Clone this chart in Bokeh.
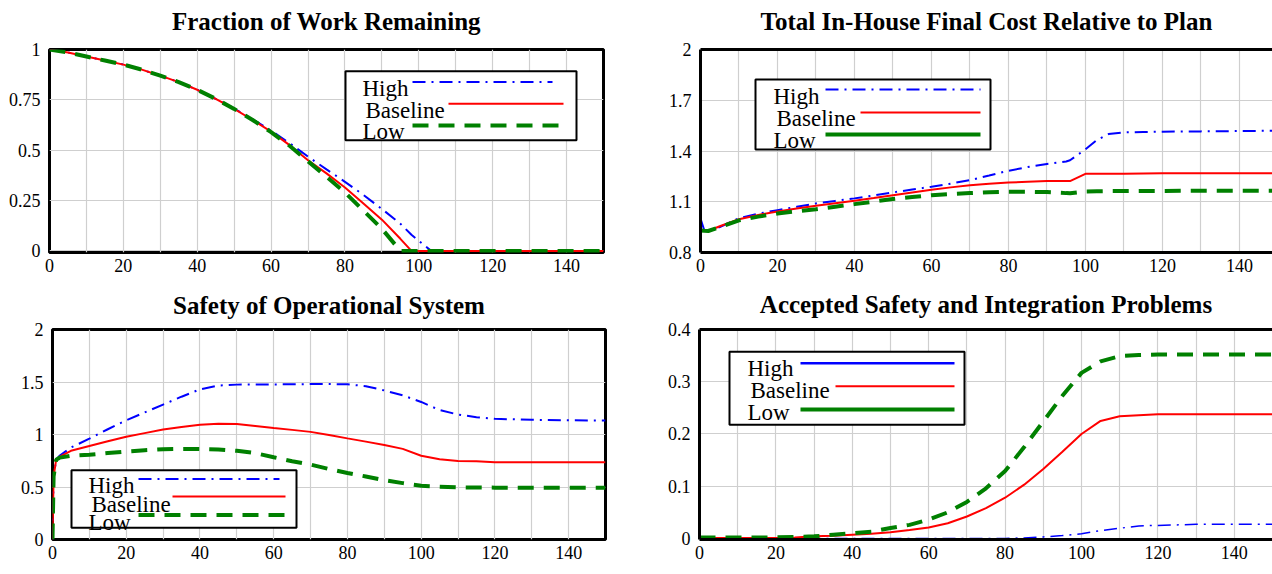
from bokeh.plotting import figure
from bokeh.layouts import column, row
from bokeh.models import (FixedTicker, LinearAxis, Label, BoxAnnotation, Arrow,
                          Range1d, CustomJSTickFormatter, Title)
from bokeh.embed import file_html
from bokeh.resources import INLINE

# ---------------- data ----------------
t_work = [0, 5, 10, 15, 20, 25, 30, 35, 40, 45, 50, 55, 60, 65, 70, 75, 80, 85, 90,
          95, 98, 100, 103, 105, 110, 120, 130, 140, 150]
work_high = [1.0, 0.985, 0.965, 0.945, 0.925, 0.9, 0.87, 0.838, 0.8, 0.755, 0.707, 0.653,
             0.597, 0.535, 0.468, 0.405, 0.343, 0.278, 0.208, 0.135, 0.08, 0.05, 0.005, 0,
             0, 0, 0, 0, 0]
work_base = [1.0, 0.985, 0.965, 0.945, 0.925, 0.9, 0.87, 0.838, 0.8, 0.755, 0.705, 0.65,
             0.592, 0.525, 0.45, 0.385, 0.315, 0.235, 0.155, 0.06, 0, 0, 0, 0,
             0, 0, 0, 0, 0]
work_low = [1.0, 0.985, 0.965, 0.945, 0.925, 0.9, 0.87, 0.838, 0.8, 0.755, 0.705, 0.65,
            0.59, 0.522, 0.445, 0.368, 0.29, 0.2, 0.11, 0, 0, 0, 0, 0,
            0, 0, 0, 0, 0]

t_cost = [0, 1, 2, 5, 10, 15, 20, 25, 30, 35, 40, 45, 50, 55, 60, 65, 70, 75, 80, 85, 90,
          95, 96, 100, 103, 106, 110, 115, 120, 130, 140, 150]
cost_high = [1.0, 0.93, 0.928, 0.95, 1.003, 1.03, 1.05, 1.07, 1.09, 1.105, 1.12, 1.137,
             1.155, 1.172, 1.189, 1.207, 1.228, 1.255, 1.283, 1.305, 1.323, 1.338, 1.345,
             1.41, 1.465, 1.5, 1.51, 1.512, 1.514, 1.516, 1.518, 1.52]
cost_base = [0.93, 0.928, 0.927, 0.955, 0.997, 1.022, 1.043, 1.06, 1.076, 1.091, 1.106,
             1.122, 1.139, 1.155, 1.171, 1.185, 1.198, 1.207, 1.214, 1.218, 1.222, 1.222,
             1.222, 1.265, 1.265, 1.265, 1.265, 1.267, 1.268, 1.268, 1.268, 1.268]
cost_low = [0.93, 0.928, 0.927, 0.95, 0.99, 1.012, 1.031, 1.044, 1.056, 1.071, 1.086,
            1.101, 1.116, 1.128, 1.139, 1.146, 1.151, 1.156, 1.159, 1.159, 1.157, 1.151,
            1.15, 1.161, 1.162, 1.163, 1.163, 1.164, 1.164, 1.165, 1.165, 1.165]

t_safe = [0, 0.3, 1, 2, 5, 10, 15, 20, 25, 30, 35, 40, 45, 50, 55, 60, 65, 70, 75, 80,
          85, 90, 95, 100, 105, 110, 115, 120, 130, 140, 150]
safe_high = [0, 0.6, 0.76, 0.8, 0.876, 0.96, 1.05, 1.135, 1.21, 1.285, 1.36, 1.43, 1.466,
             1.475, 1.476, 1.477, 1.478, 1.48, 1.48, 1.478, 1.46, 1.42, 1.373, 1.31, 1.233,
             1.19, 1.165, 1.149, 1.14, 1.135, 1.133]
safe_base = [0, 0.6, 0.76, 0.79, 0.845, 0.891, 0.935, 0.978, 1.013, 1.047, 1.072, 1.093,
             1.102, 1.099, 1.082, 1.062, 1.044, 1.025, 0.996, 0.963, 0.932, 0.9, 0.863,
             0.798, 0.764, 0.748, 0.745, 0.736, 0.736, 0.736, 0.736]
safe_low = [0, 0.6, 0.76, 0.78, 0.798, 0.807, 0.823, 0.838, 0.85, 0.86, 0.863, 0.863,
            0.857, 0.845, 0.823, 0.783, 0.745, 0.714, 0.671, 0.634, 0.6, 0.565, 0.537,
            0.512, 0.503, 0.497, 0.495, 0.494, 0.494, 0.494, 0.494]

t_prob = [0, 10, 20, 25, 30, 35, 40, 45, 50, 55, 60, 65, 70, 75, 80, 85, 90, 95, 100,
          105, 110, 115, 120, 130, 140, 150]
prob_high = [0, 0, 0, 0, 0, 0, 0, 0, 0, 0, 0, 0, 0, 0, 0, 0.001, 0.003, 0.0055, 0.009,
             0.015, 0.0195, 0.024, 0.025, 0.027, 0.027, 0.027]
prob_base = [0.001, 0.001, 0.001, 0.002, 0.004, 0.005, 0.007, 0.009, 0.012, 0.016, 0.021,
             0.029, 0.042, 0.058, 0.078, 0.103, 0.133, 0.166, 0.2, 0.225, 0.234, 0.236,
             0.2376, 0.2376, 0.2376, 0.2376]
prob_low = [0.002, 0.002, 0.002, 0.003, 0.004, 0.007, 0.01, 0.013, 0.02, 0.026, 0.036,
            0.05, 0.07, 0.096, 0.129, 0.175, 0.224, 0.273, 0.317, 0.339, 0.349, 0.351,
            0.352, 0.352, 0.352, 0.352]

series_names = ["High", "Baseline", "Low"]
x_ticks = [0, 20, 40, 60, 80, 100, 120, 140]
x_grid = [0, 10, 20, 30, 40, 50, 60, 70, 80, 90, 100, 110, 120, 130, 140, 150]
work_yticks = [0, 0.25, 0.5, 0.75, 1]
cost_yticks = [0.8, 1.1, 1.4, 1.7, 2]
safe_yticks = [0, 0.5, 1, 1.5, 2]
prob_yticks = [0, 0.1, 0.2, 0.3, 0.4]

# ---------------- styles ----------------
SERIF = "Liberation Serif"
BLUE, RED, GREEN = "#0000ff", "#ff0000", "#008000"
STY = {
    "dashdot": dict(line_color=BLUE, line_width=2, line_dash="13 6 2 6"),
    "dashdot_thin": dict(line_color=BLUE, line_width=1.5, line_dash="13 6 2 6"),
    "blue_solid": dict(line_color=BLUE, line_width=2.5),
    "red": dict(line_color=RED, line_width=2),
    "dashed": dict(line_color=GREEN, line_width=4, line_dash="16 10"),
    "green_solid": dict(line_color=GREEN, line_width=4),
}


def make_fig(title, w, h, bl, br, bt, bb, xr, yr, yticks, gap, open_right=False):
    p = figure(width=w, height=h, output_backend="svg", toolbar_location=None,
               x_range=Range1d(*xr), y_range=Range1d(*yr), title=None,
               min_border_left=bl, min_border_right=br, min_border_top=bt,
               min_border_bottom=bb)
    p.background_fill_color = "white"
    p.border_fill_color = "white"
    fmt = CustomJSTickFormatter(code="return tick.toString()")
    p.xaxis.ticker = FixedTicker(ticks=x_ticks)
    p.yaxis.ticker = FixedTicker(ticks=yticks)
    p.yaxis.formatter = fmt
    for ax in p.xaxis + p.yaxis:
        ax.major_label_text_font = SERIF
        ax.major_label_text_font_size = "18px"
        ax.major_label_text_color = "black"
        ax.major_tick_line_color = None
        ax.minor_tick_line_color = None
        ax.major_tick_out = 0
        ax.major_tick_in = 0
        ax.minor_tick_out = 0
        ax.minor_tick_in = 0
    p.xaxis.major_label_standoff = 6
    p.yaxis.major_label_standoff = 9
    p.xgrid.ticker = FixedTicker(ticks=x_grid)
    p.ygrid.ticker = FixedTicker(ticks=yticks)
    p.xgrid.grid_line_color = "#cfcfcf"
    p.ygrid.grid_line_color = "#cfcfcf"
    p.xgrid.grid_line_width = 1.2
    p.ygrid.grid_line_width = 1.2
    if open_right:
        p.outline_line_color = None
        for ax in p.xaxis + p.yaxis:
            ax.axis_line_color = "black"
            ax.axis_line_width = 3
        top = LinearAxis(ticker=FixedTicker(ticks=[]), axis_line_width=3,
                         axis_line_color="black", major_tick_line_color=None,
                         minor_tick_line_color=None, major_tick_out=0,
                         minor_tick_out=0, major_tick_in=0, minor_tick_in=0)
        p.add_layout(top, "above")
    else:
        p.outline_line_color = "black"
        p.outline_line_width = 3
        p.outline_line_alpha = 1
        p.xaxis.axis_line_color = None
        p.yaxis.axis_line_color = None
    # small spacer between frame and title, then the title itself
    p.add_layout(Title(text=" ", text_font_size="1px", standoff=gap), "above")
    p.add_layout(Title(text=title, text_font=SERIF, text_font_size="25px",
                       text_font_style="bold", text_color="black", align="center",
                       vertical_align="bottom", standoff=0), "above")
    return p


def mapper(p, geom):
    L, R, T, B = geom
    x0, x1 = p.x_range.start, p.x_range.end
    y0, y1 = p.y_range.start, p.y_range.end

    def dx(px):
        return x0 + (px - L) / (R - L) * (x1 - x0)

    def dy(py):
        return y0 + (B - py) / (B - T) * (y1 - y0)
    return dx, dy


def add_legend(p, geom, box, entries):
    dx, dy = mapper(p, geom)
    bl, bt, br, bb = box
    p.add_layout(BoxAnnotation(left=dx(bl), right=dx(br), top=dy(bt), bottom=dy(bb),
                               fill_color="white", fill_alpha=1.0, line_color="black",
                               line_width=2, line_alpha=1))
    for name, tx, ty, lx0, lx1, ly, sty in entries:
        p.add_layout(Label(x=dx(tx), y=dy(ty), text=name, text_font=SERIF,
                           text_font_size="23px", text_baseline="middle",
                           text_align="left", text_color="black"))
        p.add_layout(Arrow(end=None, x_start=dx(lx0), y_start=dy(ly), x_end=dx(lx1),
                           y_end=dy(ly), **STY[sty]))


# ---- panel 1 ----
p1 = make_fig("Fraction of Work Remaining", 640, 284, 49, 37, 46, 32,
              (0, 150), (-0.008, 1.0), work_yticks, 12)
p1.line(t_work, work_high, **STY["dashdot"])
p1.line(t_work, work_base, **STY["red"])
p1.line(t_work, work_low, **STY["dashed"])
add_legend(p1, (49, 603, 46, 252), (345, 68, 576, 138), [
    ("High", 362, 86, 412, 552, 79, "dashdot"),
    ("Baseline", 365, 108, 448, 563, 101, "red"),
    ("Low", 362, 129, 412, 563, 123, "dashed"),
])

# ---- panel 2 ----
p2 = make_fig("Total In-House Final Cost Relative to Plan", 632, 284, 60, 0, 49, 32,
              (0, 148.6), (0.8, 2.0), cost_yticks, 12, open_right=True)
p2.line(t_cost, cost_high, **STY["dashdot"])
p2.line(t_cost, cost_base, **STY["red"])
p2.line(t_cost, cost_low, **STY["dashed"])
add_legend(p2, (700, 1272, 49, 252), (755, 79, 990, 149), [
    ("High", 773, 96, 825, 980, 89, "dashdot"),
    ("Baseline", 776, 118, 860, 980, 112, "red"),
    ("Low", 773, 140, 825, 980, 134, "green_solid"),
])

# ---- panel 3 ----
p3 = make_fig("Safety of Operational System", 640, 290, 52, 35, 40, 35,
              (0, 150), (0, 2.0), safe_yticks, 8)
p3.line(t_safe, safe_high, **STY["dashdot"])
p3.line(t_safe, safe_base, **STY["red"])
p3.line(t_safe, safe_low, **STY["dashed"])
add_legend(p3, (52, 605, 324, 539), (71, 468, 296, 527), [
    ("High", 88, 484, 138, 279, 477, "dashdot"),
    ("Baseline", 91, 503, 172, 285, 495, "red"),
    ("Low", 88, 522, 138, 286, 514, "dashed"),
])

# ---- panel 4 ----
p4 = make_fig("Accepted Safety and Integration Problems", 632, 290, 59, 0, 45, 27,
              (0, 150), (-0.002, 0.4), prob_yticks, 9, open_right=True)
p4.line(t_prob, prob_high, **STY["dashdot_thin"])
p4.line(t_prob, prob_base, **STY["red"])
p4.line(t_prob, prob_low, **STY["dashed"])
add_legend(p4, (699, 1272, 329, 547), (729, 352, 964, 428), [
    ("High", 747, 369, 800, 954, 364, "blue_solid"),
    ("Baseline", 750, 392, 835, 954, 388, "red"),
    ("Low", 747, 415, 800, 954, 412, "green_solid"),
])

layout = column(row(p1, p2), row(p3, p4))
open("out.html", "w").write(file_html(layout, INLINE))
